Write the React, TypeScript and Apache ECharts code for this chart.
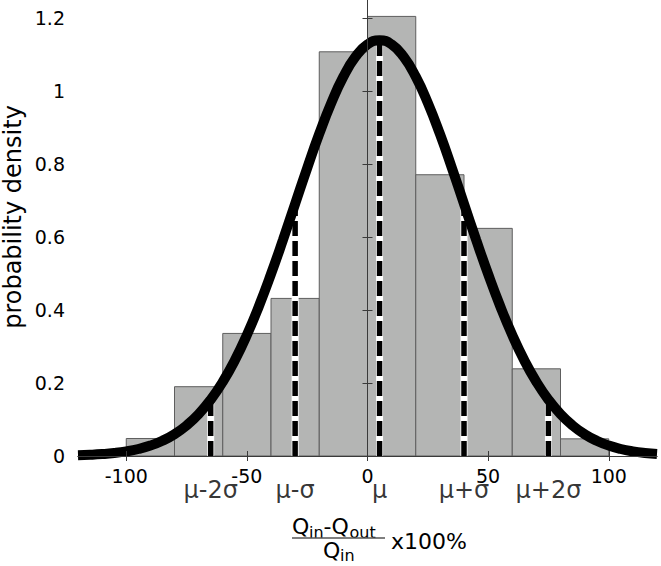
import { useEffect, useRef } from "react";
import * as echarts from "echarts";

// Histogram bins (edges) and their probability densities
const BIN_EDGES = [-100, -80, -60, -40, -20, 0, 20, 40, 60, 80, 100];
const BIN_DENSITY = [0.048, 0.19, 0.336, 0.432, 1.108, 1.205, 0.771, 0.624, 0.239, 0.047];

// Fitted normal density curve
const CURVE_X = [
  -120, -115, -110, -105, -100, -95, -90, -85, -80, -75, -70, -65, -60, -55, -50, -45, -40, -35, -30, -25,
  -20, -15, -10, -5, 0, 5, 10, 15, 20, 25, 30, 35, 40, 45, 50, 55, 60, 65, 70, 75, 80, 85, 90, 95, 100,
  105, 110, 115, 120,
];
const CURVE_Y = [
  0.0019, 0.0032, 0.0052, 0.0082, 0.0127, 0.0192, 0.0286, 0.0418, 0.0597, 0.0836, 0.1147, 0.1543, 0.2032,
  0.2622, 0.3316, 0.4108, 0.4987, 0.5932, 0.6913, 0.7894, 0.8831, 0.9681, 1.0398, 1.0942, 1.1282, 1.1398,
  1.1282, 1.0942, 1.0398, 0.9681, 0.8831, 0.7894, 0.6913, 0.5932, 0.4987, 0.4108, 0.3316, 0.2622, 0.2032,
  0.1543, 0.1147, 0.0836, 0.0597, 0.0418, 0.0286, 0.0192, 0.0127, 0.0082, 0.0052,
];

// mu +/- k sigma markers
const MARK_X = [-65, -30, 5, 40, 75];
const MARK_TOP = [0.154, 0.691, 1.14, 0.691, 0.154];
const MARK_LABELS = ["μ-2σ", "μ-σ", "μ", "μ+σ", "μ+2σ"];

// Axis ticks
const X_TICKS = [-100, -50, 0, 50, 100];
const Y_TICKS = [0, 0.2, 0.4, 0.6, 0.8, 1, 1.2];

const FONT = '"DejaVu Sans", "Noto Sans", sans-serif';
const FRAME = "#3a3a3a";

export default function App() {
  const ref = useRef<HTMLDivElement>(null);

  useEffect(() => {
    if (!ref.current) return;
    const chart = echarts.init(ref.current, undefined, { renderer: "svg" });

    const tickStyle = { show: true, inside: true, length: 5, lineStyle: { color: FRAME, width: 1 } };
    const lineStyle = { show: true, lineStyle: { color: FRAME, width: 1 } };

    const markerSeries: any[] = [];
    MARK_X.forEach((x, i) => {
      markerSeries.push({
        type: "line",
        data: [
          [x, 0],
          [x, MARK_TOP[i]],
        ],
        symbol: "none",
        silent: true,
        z: 4,
        lineStyle: { color: "#ffffff", width: 7 },
      });
      markerSeries.push({
        type: "line",
        data: [
          [x, 0],
          [x, MARK_TOP[i]],
        ],
        symbol: "none",
        silent: true,
        z: 5,
        lineStyle: { color: "#000000", width: 5.5, type: [15, 5] },
      });
    });

    const txt = (text: string, x: number, y: number, size: number) => ({
      type: "text",
      x,
      y,
      style: { text, font: `${size}px ${FONT}`, align: "left", verticalAlign: "middle", fill: "#000" },
    });

    const option: any = {
      animation: false,
      grid: { left: 78, right: 4, top: 0, bottom: 110 },
      xAxis: [
        {
          type: "value",
          min: -120,
          max: 120,
          position: "bottom",
          z: 10,
          axisLine: lineStyle,
          axisTick: { ...tickStyle, customValues: X_TICKS },
          axisLabel: {
            customValues: X_TICKS,
            margin: 10,
            fontFamily: FONT,
            fontSize: 19,
            color: "#000",
          },
          splitLine: { show: false },
        },
        {
          type: "value",
          min: -120,
          max: 120,
          position: "top",
          z: 10,
          axisLine: lineStyle,
          axisTick: { ...tickStyle, customValues: X_TICKS },
          axisLabel: { show: false },
          splitLine: { show: false },
        },
      ],
      yAxis: [
        {
          type: "value",
          min: 0,
          max: 1.25,
          position: "left",
          z: 10,
          axisLine: lineStyle,
          axisTick: { ...tickStyle, customValues: Y_TICKS },
          axisLabel: {
            customValues: Y_TICKS,
            margin: 13,
            fontFamily: FONT,
            fontSize: 19,
            color: "#000",
          },
          splitLine: { show: false },
        },
        {
          type: "value",
          min: 0,
          max: 1.25,
          position: "right",
          z: 10,
          axisLine: lineStyle,
          axisTick: { ...tickStyle, customValues: Y_TICKS },
          axisLabel: { show: false },
          splitLine: { show: false },
        },
      ],
      series: [
        {
          type: "custom",
          z: 2,
          silent: true,
          encode: { x: [0, 1], y: 2 },
          data: BIN_DENSITY.map((d, i) => [BIN_EDGES[i], BIN_EDGES[i + 1], d]),
          renderItem: (_params: any, api: any) => {
            const p0 = api.coord([api.value(0), api.value(2)]);
            const p1 = api.coord([api.value(1), 0]);
            return {
              type: "rect",
              shape: { x: p0[0], y: p0[1], width: p1[0] - p0[0], height: p1[1] - p0[1] },
              style: { fill: "#b4b5b4", stroke: "#5e5e5e", lineWidth: 1 },
            };
          },
        },
        ...markerSeries,
        {
          type: "line",
          data: CURVE_X.map((x, i) => [x, CURVE_Y[i]]),
          symbol: "none",
          smooth: true,
          silent: true,
          z: 6,
          lineStyle: { color: "#000000", width: 10 },
        },
        {
          type: "scatter",
          data: MARK_X.map((x) => [x, 0]),
          symbolSize: 0,
          clip: false,
          silent: true,
          z: 7,
          label: {
            show: true,
            position: "inside",
            offset: [0, 34],
            formatter: (p: any) => MARK_LABELS[p.dataIndex],
            fontFamily: FONT,
            fontSize: 24,
            color: "#000",
          },
        },
      ],
      graphic: [
        {
          type: "text",
          x: 13,
          y: 217,
          rotation: Math.PI / 2,
          style: {
            text: "probability density",
            font: `24px ${FONT}`,
            align: "center",
            verticalAlign: "middle",
            fill: "#000",
          },
        },
        // x-axis title: (Q_in - Q_out) / Q_in x100%
        txt("Q", 292, 526, 22),
        txt("in", 309, 532, 16),
        txt("-", 323.5, 526, 22),
        txt("Q", 331.5, 526, 22),
        txt("out", 349.5, 532, 16),
        { type: "line", shape: { x1: 292, y1: 538, x2: 385, y2: 538 }, style: { stroke: "#555", lineWidth: 1.5 } },
        txt("Q", 323, 550.5, 22),
        txt("in", 340, 555.5, 16),
        txt("x100%", 391, 541, 22),
      ],
    };

    chart.setOption(option);
    return () => chart.dispose();
  }, []);

  return (
    <div
      ref={ref}
      style={{ position: "fixed", left: 0, top: 0, width: 661, height: 566, background: "#fff" }}
    />
  );
}
